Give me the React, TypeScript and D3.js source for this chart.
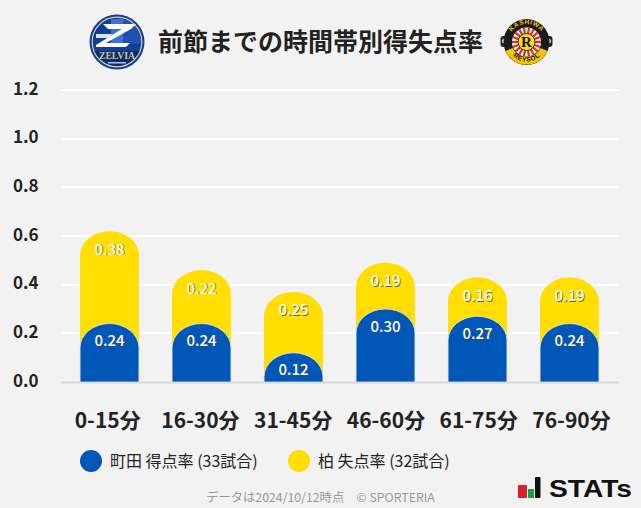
import React from "react";
import * as d3 from "d3";

const categories = ["0-15分", "16-30分", "31-45分", "46-60分", "61-75分", "76-90分"];
const machidaRate = [0.24, 0.24, 0.12, 0.3, 0.27, 0.24];
const kashiwaRate = [0.38, 0.22, 0.25, 0.19, 0.16, 0.19];
const yTicks = [0, 0.2, 0.4, 0.6, 0.8, 1.0, 1.2];
const legendLabels = ["町田 得点率 (33試合)", "柏 失点率 (32試合)"];
const title = "前節までの時間帯別得失点率";
const footer = "データは2024/10/12時点　© SPORTERIA";

const BLUE = "#0057B8";
const YELLOW = "#FFDE00";
const FONT = "'Noto Sans CJK JP','Noto Sans',sans-serif";

const W = 641, H = 508;
const y = d3.scaleLinear().domain([0, 1.2]).range([382, 90]);
const x = d3.scaleBand<string>().domain(categories).range([63.5, 615.5]).paddingInner(0.36).paddingOuter(0.18);
const xLabel = d3.scalePoint<string>().domain(categories).range([107.7, 571.5]);

function capBar(x0: number, w: number, top: number, bottom: number) {
  const rx = w / 2;
  const ry = Math.min(24, bottom - top);
  return `M${x0},${bottom}V${top + ry}A${rx},${ry} 0 0 1 ${x0 + w},${top + ry}V${bottom}Z`;
}

function ValueLabel({ cx, cy, v }: { cx: number; cy: number; v: number }) {
  const s = v.toFixed(2);
  return (
    <g fontFamily={FONT} fontSize={15} fontWeight={500} textAnchor="middle">
      <text x={cx + 0.8} y={cy + 0.8} fill="#444" opacity={0.8}>{s}</text>
      <text x={cx} y={cy} fill="#fff">{s}</text>
    </g>
  );
}

function ZelviaLogo() {
  const cx = 117, cy = 42;
  return (
    <g>
      <circle cx={cx} cy={cy} r={27.5} fill="#123E93" />
      <circle cx={cx} cy={cy} r={24.8} fill="#123E93" stroke="#D9CFA0" strokeWidth={1.2} />
      <path d={`M${cx - 24},${cy + 2}A24,24 0 0 1 ${cx},${cy - 24}V${cy + 2}Z`} fill="#0F3D99" />
      <path d={`M${cx},${cy - 24}A24,24 0 0 1 ${cx + 24},${cy + 2}H${cx}Z`} fill="#1F52B0" />
      <rect x={cx - 6} y={cy - 23} width={12} height={25} fill="#3A74D0" />
      <path d="M103,24H136L131,29L108,29Z" fill="#fff" />
      <path d="M96,45L122,29H131L106,43H130L126,47H96Z" fill="#fff" />
      <path d="M96,34H113L108,38H96Z" fill="#fff" opacity={0.85} />
      <path d={`M${cx - 22.5},${cy + 9}H${cx + 22.5}A24.5,24.5 0 0 1 ${cx - 22.5},${cy + 9}Z`} fill="#0B2C74" />
      <text x={cx} y={cy + 17} fontFamily="'Liberation Serif',serif" fontSize={10} fontWeight={700} fill="#D8C585" textAnchor="middle" textLength={36} lengthAdjust="spacingAndGlyphs">ZELVIA</text>
      <rect x={cx - 9} y={cy + 20} width={18} height={1.5} fill="#B9C4D8" />
    </g>
  );
}

function ReysolLogo() {
  const cx = 526.5, cy = 42;
  const rays = d3.range(18).map((i) => (i / 18) * 2 * Math.PI);
  return (
    <g>
      <rect x={cx - 26} y={cy - 6} width={52} height={11} rx={3} fill="#222" />
      <circle cx={cx - 22} cy={cy - 1} r={2.5} fill="#ddd" />
      <circle cx={cx + 22} cy={cy - 1} r={2.5} fill="#ddd" />
      <circle cx={cx} cy={cy} r={23} fill="#1A1A1A" />
      <path id="kw-top" d={`M${cx - 18},${cy}A18,18 0 0 1 ${cx + 18},${cy}`} fill="none" />
      <text fontFamily="'Liberation Sans',sans-serif" fontSize={6.5} fontWeight={700} fill="#F3C500" letterSpacing={0.6} textAnchor="middle">
        <textPath href="#kw-top" startOffset="50%">KASHIWA</textPath>
      </text>
      <path d={`M${cx - 21},${cy + 9}A23,23 0 0 0 ${cx + 21},${cy + 9}L${cx + 14},${cy + 6}A15.5,15.5 0 0 1 ${cx - 14},${cy + 6}Z`} fill="#F3C500" />
      <path id="kw-bottom" d={`M${cx - 18.5},${cy + 5}A19,19 0 0 0 ${cx + 18.5},${cy + 5}`} fill="none" />
      <text fontFamily="'Liberation Sans',sans-serif" fontSize={6.5} fontWeight={700} fill="#111" letterSpacing={0.6} textAnchor="middle">
        <textPath href="#kw-bottom" startOffset="50%">REYSOL</textPath>
      </text>
      <circle cx={cx} cy={cy} r={14.5} fill="#F2F2F2" />
      {rays.map((a, i) => (
        <line key={i} x1={cx + 8 * Math.cos(a)} y1={cy + 8 * Math.sin(a)} x2={cx + 14.5 * Math.cos(a)} y2={cy + 14.5 * Math.sin(a)} stroke="#D0341F" strokeWidth={2.2} />
      ))}
      <circle cx={cx} cy={cy} r={8.5} fill="#FFDE00" stroke="#111" strokeWidth={0.8} />
      <text x={cx} y={cy + 5} fontFamily="'Liberation Serif',serif" fontSize={15} fontWeight={700} fill="#111" textAnchor="middle">R</text>
    </g>
  );
}

function StatsLogo() {
  return (
    <g>
      <rect x={518} y={485} width={9} height={13} rx={1} fill="#D9202A" />
      <rect x={528} y={489} width={6} height={9} fill="#12A14B" />
      <rect x={535} y={477} width={5.5} height={21} rx={1} fill="#111" />
      <text x={549} y={497} fontFamily="'Liberation Sans',sans-serif" fontSize={24} fontWeight={700} fill="#111" textLength={83} lengthAdjust="spacingAndGlyphs">STATs</text>
    </g>
  );
}

export default function App() {
  return (
    <svg width={W} height={H} viewBox={`0 0 ${W} ${H}`} style={{ position: "fixed", left: 0, top: 0, display: "block", background: "#F2F2F2" }}>
      <rect width={W} height={H} fill="#F2F2F2" />
      <ZelviaLogo />
      <text x={320.5} y={50.5} fontFamily={FONT} fontSize={25} fontWeight={700} fill="#222" textAnchor="middle">{title}</text>
      <ReysolLogo />

      {yTicks.map((t) => (
        <g key={t}>
          {t > 0 && <line x1={61} x2={619} y1={y(t)} y2={y(t)} stroke="#fff" strokeWidth={2} />}
          <text x={38.5} y={y(t) + 4.5} fontFamily={FONT} fontSize={17} fontWeight={700} fill="#222" textAnchor="end">{t.toFixed(1)}</text>
        </g>
      ))}
      <line x1={61} x2={619} y1={y(0) + 0.5} y2={y(0) + 0.5} stroke="#D8D8D8" strokeWidth={2} />

      {categories.map((c, i) => {
        const bx = x(c)!;
        const bw = x.bandwidth();
        const cx = bx + bw / 2;
        const m = machidaRate[i];
        const k = kashiwaRate[i];
        const yTop = y(m + k);
        const mTop = y(m);
        return (
          <g key={c}>
            <path d={capBar(bx, bw, yTop, y(0))} fill={YELLOW} />
            <path d={capBar(bx, bw, mTop, y(0))} fill={BLUE} stroke="#DDE6F0" strokeWidth={0.8} />
            <ValueLabel cx={cx} cy={yTop + 23.5} v={k} />
            <ValueLabel cx={cx} cy={mTop + 22.5} v={m} />
            <text x={xLabel(c)} y={427.5} fontFamily={FONT} fontSize={21} fontWeight={700} fill="#222" textAnchor="middle">{c}</text>
          </g>
        );
      })}

      <ellipse cx={91} cy={461} rx={11} ry={11} fill={BLUE} />
      <text x={110} y={466.5} fontFamily={FONT} fontSize={16} fill="#222">{legendLabels[0]}</text>
      <ellipse cx={299} cy={461} rx={11} ry={11} fill={YELLOW} />
      <text x={318} y={466.5} fontFamily={FONT} fontSize={16} fill="#222">{legendLabels[1]}</text>

      <text x={320.5} y={502} fontFamily={FONT} fontSize={12.3} fill="#999" textAnchor="middle">{footer}</text>
      <StatsLogo />
    </svg>
  );
}
